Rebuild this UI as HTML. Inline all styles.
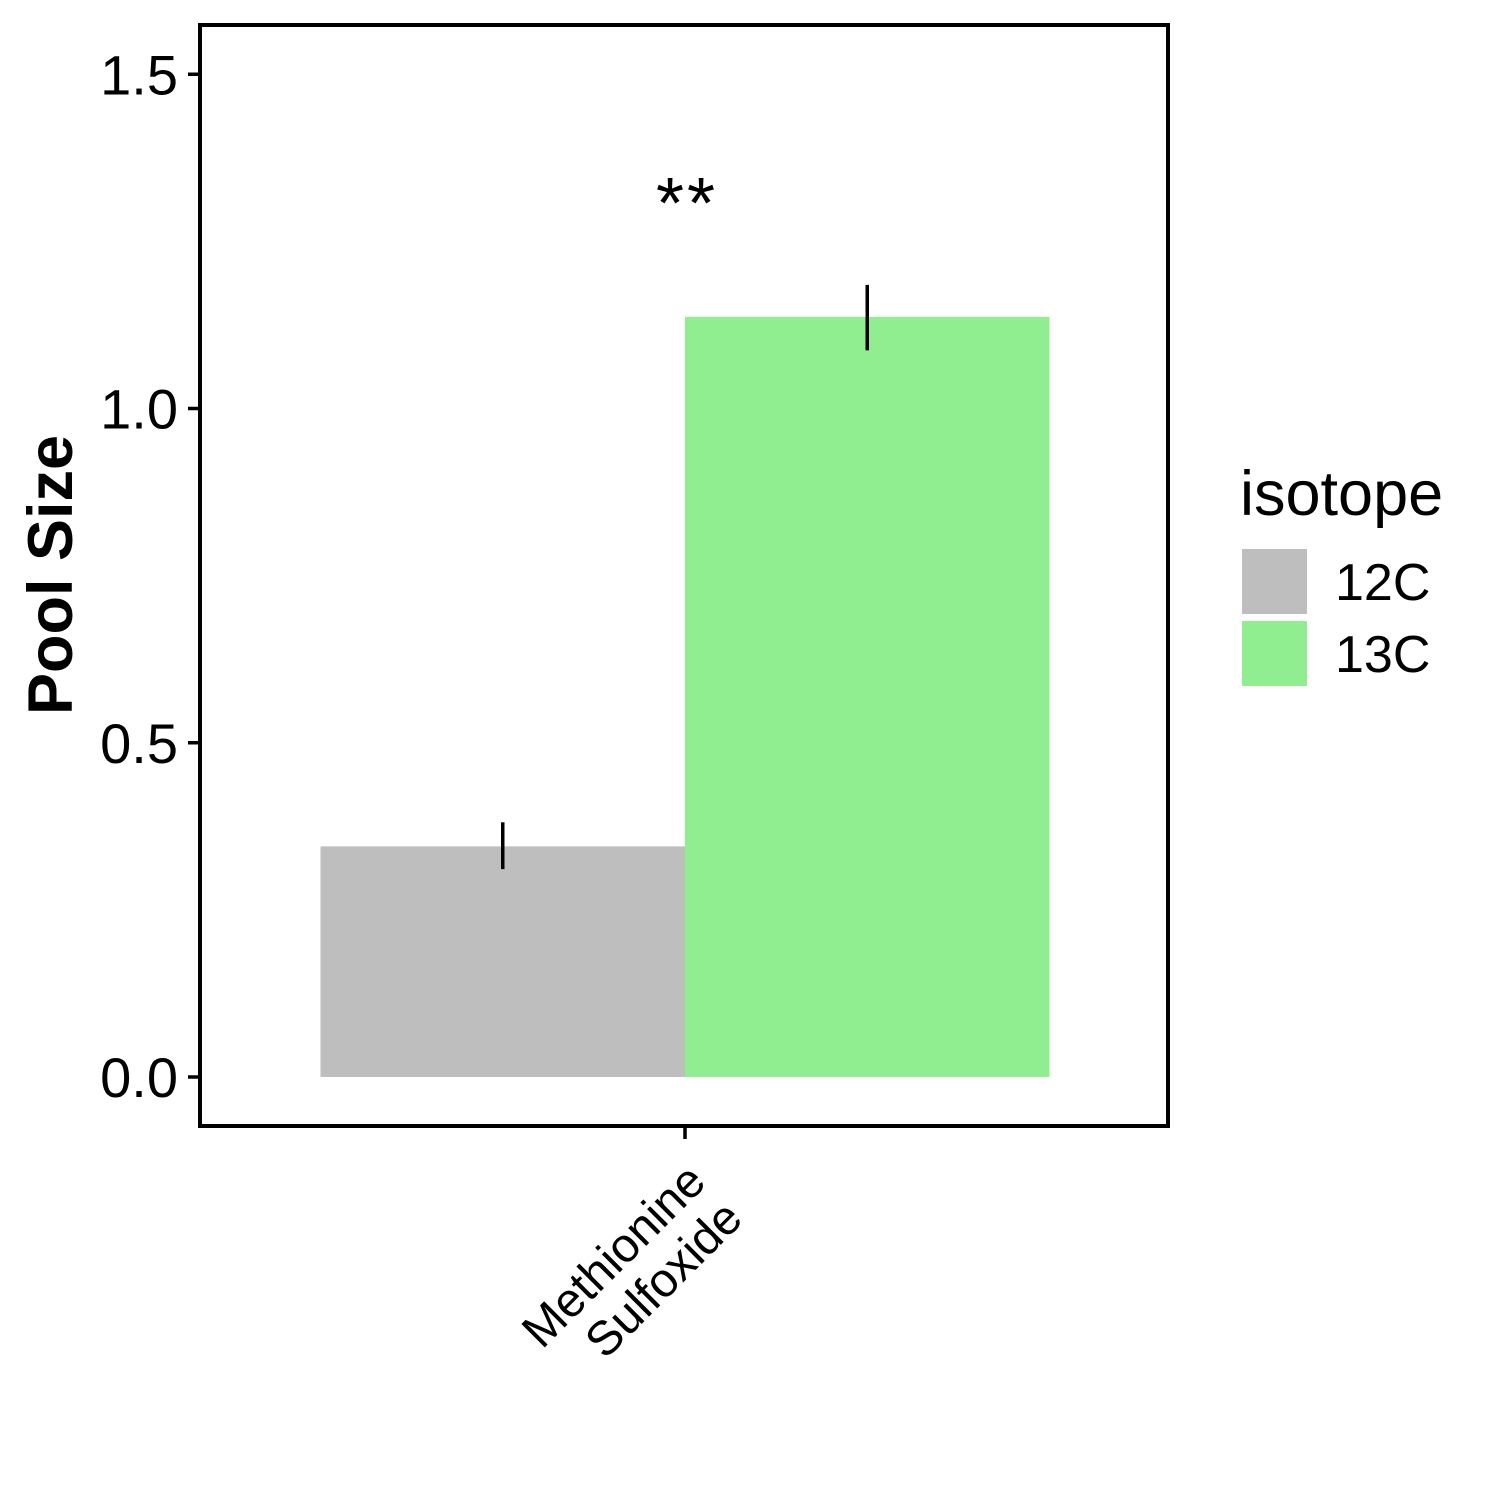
<!DOCTYPE html>
<html><head><meta charset="utf-8"><style>
html,body{margin:0;padding:0;background:#fff;}
svg{display:block;font-family:"Liberation Sans",Arial,sans-serif;}
</style></head><body>
<svg id="chart" width="1500" height="1500" viewBox="0 0 1500 1500"></svg>
<script>
const categories = ["Methionine\nSulfoxide"];
const isotopes = ["12C", "13C"];
const means = [0.345, 1.137];
const errLow = [0.311, 1.087];
const errHigh = [0.381, 1.185];
const yTicks = [0.0, 0.5, 1.0, 1.5];
const yTickLabels = ["0.0", "0.5", "1.0", "1.5"];
const colors = ["#bebebe", "#90ee90"];
const annotation = "**";

const NS = "http://www.w3.org/2000/svg";
const svg = document.getElementById("chart");
function el(tag, attrs, parent) {
  const e = document.createElementNS(NS, tag);
  for (const k in attrs) e.setAttribute(k, attrs[k]);
  (parent || svg).appendChild(e);
  return e;
}
const P = {l: 200, t: 25, r: 1168, b: 1126};
const y = v => 1077 - v * 668.5;
const catCenter = 685, groupW = 729;
const x = (ci, si) => catCenter - groupW / 2 + si * groupW / isotopes.length;
const bw = groupW / isotopes.length;

means.forEach((m, i) => {
  const r = el("rect", {x: x(0, i), y: y(m), width: bw, height: y(0) - y(m), fill: colors[i]});
  
  
  const eb = el("line", {x1: x(0, i) + bw / 2, x2: x(0, i) + bw / 2, y1: y(errLow[i]), y2: y(errHigh[i]), stroke: "#000", "stroke-width": 3.5});
  
  
});
const bd = el("rect", {x: P.l, y: P.t, width: P.r - P.l, height: P.b - P.t, fill: "none", stroke: "#000", "stroke-width": 4});


yTicks.forEach((v, i) => {
  const t = el("line", {x1: 188, x2: P.l, y1: y(v), y2: y(v), stroke: "#000", "stroke-width": 3.5});
  
  
  const tx = el("text", {x: 178, y: y(v) + 20, "text-anchor": "end", "font-size": 56, fill: "#000"});
  tx.textContent = yTickLabels[i];
  
  
});
const xt = el("line", {x1: catCenter, x2: catCenter, y1: P.b, y2: 1139, stroke: "#000", "stroke-width": 3.5});


const g = el("g", {transform: "translate(684,1160) rotate(-45)"});
categories[0].split("\n").forEach((ln, i) => {
  const t = el("text", {x: 0, y: 34 + i * 52, "text-anchor": "end", "font-size": 48, fill: "#000"}, g);
  t.textContent = ln;
  
  
});
const an = el("text", {x: catCenter + 2, y: 228, "text-anchor": "middle", "font-size": 72, "letter-spacing": 3, fill: "#000"});
an.textContent = annotation;


const yt = el("text", {x: 0, y: 0, transform: "translate(72,575) rotate(-90)", "text-anchor": "middle", "font-size": 63, "font-weight": "bold", fill: "#000"});
yt.textContent = "Pool Size";


const lt = el("text", {x: 1240, y: 515, "font-size": 63, fill: "#000"});
lt.textContent = "isotope";


isotopes.forEach((iso, i) => {
  const k = el("rect", {x: 1242, y: 549 + i * 72, width: 65, height: 65, fill: colors[i]});
  
  
  const t = el("text", {x: 1335, y: 600 + i * 72, "font-size": 52, fill: "#000"});
  t.textContent = iso;
  
  
});
</script>
</body></html>
